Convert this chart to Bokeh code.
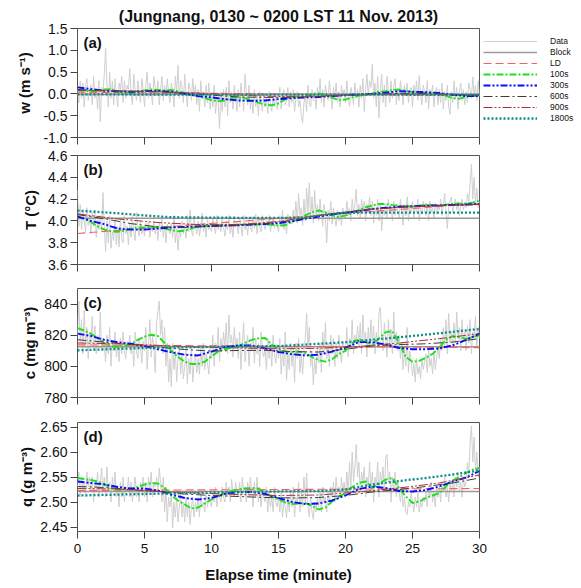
from bokeh.plotting import figure
from bokeh.layouts import column
from bokeh.models import Legend, LegendItem, FixedTicker, NumeralTickFormatter, Label, Range1d
from bokeh.embed import file_html
from bokeh.resources import INLINE

FONT = "Liberation Sans"

# ---------------- time axes (minutes) ----------------
t_data = [i / 10 for i in range(301)]
t_100s = [i / 2 for i in range(61)]
t_300s = list(range(31))
t_600s = list(range(0, 31, 2))
t_900s = list(range(0, 31, 3))
t_ends = [0, 30]
x_ticks = [0, 5, 10, 15, 20, 25, 30]

# ---------------- (a) w ----------------
w_data = [
    0.10, -0.20, 0.30, -0.10, 0.25, -0.30, 0.15, 0.35, -0.15, 0.05,
    0.20, -0.25, 0.40, -0.10, 0.10, -0.35, 0.30, -0.64, 0.15, 0.05,
    0.45, 1.05, 0.20, -0.30, 0.50, -0.10, 0.30, -0.25, 0.35, 0.00,
    -0.30, 0.25, 0.10, 0.40, -0.20, 0.30, -0.10, 0.20, 0.10, 0.58,
    0.00, -0.25, 0.45, 0.10, -0.15, 0.30, 0.05, -0.20, 0.35, 0.10,
    -0.30, 0.20, 0.50, -0.10, 0.25, 0.05, -0.25, 0.40, 0.15, -0.05,
    0.30, -0.25, 0.10, 0.40, -0.15, 0.20, -0.05, 0.35, 0.00, -0.20,
    0.25, 0.10, -0.30, 0.40, 0.05, 0.65, -0.10, 0.30, 0.15, -0.20,
    0.45, 0.00, -0.30, 0.25, 0.10, -0.15, 0.35, -0.05, 0.20, -0.25,
    0.10, -0.40, 0.30, -0.10, 0.05, -0.30, 0.20, -0.20, 0.25, -0.35,
    0.00, -0.30, 0.20, -0.45, -0.10, -0.20, -0.80, 0.05, -0.40, 0.10,
    -0.30, 0.15, -0.50, 0.30, -0.20, 0.05, -0.35, 0.20, -0.10, -0.40,
    0.10, -0.30, 0.25, -0.05, -0.40, 0.45, 0.00, -0.25, 0.20, -0.35,
    -0.10, -0.45, 0.10, -0.30, -0.05, -0.50, 0.05, -0.20, -0.40, 0.00,
    -0.30, -0.10, -0.45, 0.05, -0.25, -0.40, -0.05, -0.30, 0.00, -0.35,
    -0.15, 0.15, -0.35, -0.05, 0.10, -0.25, -0.10, 0.15, -0.30, 0.05,
    -0.20, 0.10, -0.40, -0.10, 0.05, -0.30, -0.15, -0.50, -0.67, -0.20,
    -0.05, -0.40, 0.20, -0.20, -0.30, 0.10, -0.15, 0.05, -0.35, 0.15,
    -0.10, 0.35, -0.20, 0.10, -0.30, 0.20, 0.00, -0.15, 0.30, -0.05,
    -0.35, 0.15, -0.10, 0.25, -0.20, 0.05, -0.30, 0.20, -0.05, 0.10,
    -0.20, 0.30, -0.05, -0.30, 0.15, 0.00, -0.25, 0.25, -0.10, 0.10,
    -0.30, 0.20, -0.10, 0.35, -0.40, 0.10, 0.45, -0.05, 0.30, 0.15,
    0.68, -0.10, 0.25, -0.30, 0.40, -0.55, 0.10, 0.45, -0.20, 0.20,
    -0.30, 0.40, 0.05, -0.20, 0.30, -0.10, 0.15, 0.35, -0.25, 0.10,
    -0.15, 0.30, 0.05, -0.25, 0.20, -0.05, 0.25, -0.20, 0.10, 0.15,
    -0.30, 0.20, -0.05, 0.30, -0.15, 0.42, 0.00, -0.25, 0.20, 0.05,
    -0.20, 0.30, -0.35, 0.10, -0.05, 0.20, -0.30, 0.05, 0.15, -0.25,
    0.10, -0.20, 0.25, -0.35, 0.05, -0.15, 0.20, -0.30, -0.47, 0.05,
    -0.20, 0.30, -0.10, 0.15, -0.35, 0.05, 0.25, -0.15, 0.10, -0.25,
    0.05, -0.20, 0.25, 0.10, -0.10, 0.39, -0.05, 0.20, -0.15, 0.30,
    -0.05]
w_block = [-0.01, -0.01]
w_ld = [0.04, -0.04]
w_100s = [
    0.08, 0.07, 0.06, 0.07, 0.10, 0.11, 0.06, 0.01, 0.02, 0.05,
    0.08, 0.10, 0.09, 0.08, 0.09, 0.06, 0.02, -0.02, -0.05, -0.10,
    -0.14, -0.17, -0.15, -0.09, -0.08, -0.10, -0.14, -0.20, -0.25, -0.26,
    -0.22, -0.12, -0.07, -0.06, -0.05, -0.02, 0.01, -0.02, -0.09, -0.14,
    -0.13, -0.08, -0.04, -0.02, 0.01, 0.05, 0.06, 0.09, 0.10, 0.07,
    0.04, 0.02, 0.03, 0.02, -0.01, -0.04, -0.10, -0.11, -0.07, -0.05,
    -0.05]
w_300s = [0.15, 0.11, 0.07, 0.06, 0.05, 0.06, 0.07, 0.05, 0.00, -0.05,
          -0.08, -0.12, -0.15, -0.16, -0.15, -0.12, -0.10, -0.08, -0.07, -0.05,
          -0.03, -0.01, 0.00, 0.03, 0.06, 0.05, 0.04, 0.02, -0.02, -0.05, -0.05]
w_600s = [0.10, 0.08, 0.06, 0.05, 0.02, -0.03, -0.07, -0.08, -0.08, -0.06,
          -0.04, -0.01, 0.01, 0.01, -0.01, -0.03]
w_900s = [0.08, 0.07, 0.05, 0.02, -0.03, -0.06, -0.05, -0.02, 0.00, -0.01, -0.02]
w_1800s_t = [0, 10, 20, 30]
w_1800s = [-0.012, -0.015, -0.018, -0.02]

# ---------------- (b) T ----------------
T_data = [
    4.28, 3.95, 4.15, 3.92, 4.10, 4.00, 3.90, 4.12, 3.96, 4.05,
    3.88, 4.08, 3.95, 4.10, 3.85, 4.02, 3.92, 4.05, 3.90, 4.26,
    3.95, 3.72, 4.00, 3.80, 4.05, 3.75, 3.90, 3.82, 4.02, 3.78,
    3.95, 3.76, 4.03, 3.85, 3.80, 4.05, 3.88, 3.95, 3.78, 3.98,
    3.85, 4.05, 3.90, 3.82, 4.08, 3.95, 3.86, 4.00, 3.88, 3.95,
    3.86, 3.98, 3.92, 4.00, 3.85, 3.95, 3.90, 4.00, 3.88, 3.96,
    3.82, 3.98, 3.90, 4.02, 3.85, 3.95, 3.80, 3.97, 3.92, 3.88,
    3.98, 3.85, 4.05, 3.80, 3.93, 3.73, 3.90, 3.85, 4.00, 3.88,
    3.95, 3.84, 4.05, 3.90, 4.10, 3.92, 3.86, 4.02, 3.95, 3.88,
    4.00, 3.86, 3.95, 4.07, 3.90, 3.98, 3.85, 4.03, 3.92, 3.97,
    3.90, 4.02, 3.95, 3.88, 4.05, 3.92, 3.98, 3.90, 4.03, 3.94,
    3.86, 4.00, 3.92, 4.05, 3.88, 3.96, 3.85, 4.02, 3.94, 3.99,
    3.88, 4.03, 3.95, 3.86, 4.05, 3.92, 3.98, 3.87, 4.02, 3.96,
    3.90, 4.04, 3.93, 4.06, 3.88, 4.00, 3.95, 3.90, 4.05, 3.97,
    3.92, 4.02, 3.95, 4.05, 3.90, 3.98, 4.03, 3.93, 4.00, 3.96,
    3.90, 4.05, 3.95, 4.10, 3.92, 4.02, 3.88, 4.06, 3.98, 4.03,
    3.97, 4.10, 4.00, 4.18, 3.98, 4.25, 4.05, 4.12, 3.96, 4.20,
    4.00, 4.30, 4.08, 4.35, 4.02, 4.22, 3.98, 4.28, 4.05, 4.15,
    4.00, 4.20, 4.05, 3.95, 4.15, 4.02, 3.80, 4.10, 4.00, 4.18,
    3.97, 4.12, 4.02, 3.95, 4.10, 4.00, 4.08, 3.96, 4.12, 4.05,
    4.02, 4.18, 4.05, 4.12, 4.00, 4.20, 4.08, 4.15, 4.29, 4.05,
    4.15, 4.02, 4.20, 4.08, 4.18, 4.00, 4.15, 4.10, 4.22, 4.05,
    4.18, 3.98, 4.12, 4.05, 4.20, 4.00, 4.15, 3.91, 4.10, 4.05,
    4.15, 4.02, 4.20, 4.08, 4.12, 4.00, 4.18, 4.05, 4.15, 4.10,
    4.02, 4.20, 4.08, 3.96, 4.15, 4.05, 4.22, 4.00, 4.12, 4.08,
    4.18, 4.02, 4.15, 4.08, 4.20, 4.00, 4.12, 4.06, 4.18, 4.10,
    4.05, 4.15, 4.00, 4.18, 4.08, 4.12, 4.02, 4.16, 4.06, 4.14,
    4.10, 4.20, 4.05, 4.15, 4.25, 4.08, 3.93, 4.12, 4.18, 4.22,
    4.08, 4.15, 4.20, 4.10, 4.18, 4.05, 4.14, 4.20, 4.10, 4.16,
    4.12, 4.25, 4.18, 4.35, 4.52, 4.20, 4.40, 4.15, 4.30, 4.12,
    4.18]
T_block = [4.024, 4.024]
T_ld = [3.885, 4.16]
T_100s = [
    4.04, 4.02, 3.99, 3.95, 3.92, 3.905, 3.90, 3.91, 3.93, 3.94,
    3.94, 3.945, 3.945, 3.93, 3.915, 3.905, 3.91, 3.93, 3.95, 3.955,
    3.955, 3.96, 3.96, 3.962, 3.965, 3.966, 3.966, 3.968, 3.97, 3.965,
    3.957, 3.96, 3.99, 4.02, 4.05, 4.08, 4.095, 4.08, 4.05, 4.034,
    4.05, 4.07, 4.10, 4.125, 4.14, 4.156, 4.155, 4.145, 4.14, 4.135,
    4.13, 4.14, 4.15, 4.145, 4.14, 4.148, 4.156, 4.158, 4.16, 4.17,
    4.186]
T_300s = [4.04, 4.00, 3.97, 3.93, 3.92, 3.92, 3.93, 3.94, 3.945, 3.95,
          3.952, 3.957, 3.96, 3.966, 3.972, 3.98, 3.995, 4.02, 4.04, 4.06,
          4.075, 4.09, 4.11, 4.12, 4.13, 4.135, 4.14, 4.143, 4.147, 4.15, 4.156]
T_600s = [4.058, 4.02, 3.975, 3.945, 3.94, 3.95, 3.96, 3.975, 4.003, 4.05,
          4.08, 4.11, 4.125, 4.135, 4.147, 4.15]
T_900s = [4.064, 4.018, 3.985, 3.966, 3.966, 3.995, 4.05, 4.095, 4.125, 4.14, 4.15]
T_1800s_t = [0, 3, 5, 7, 10, 14, 17, 18.5, 20, 25, 30]
T_1800s = [4.095, 4.07, 4.05, 4.034, 4.03, 4.027, 4.03, 4.058, 4.075, 4.076, 4.076]

# ---------------- (c) c ----------------
c_data = [
    820, 842, 815, 830, 808, 836, 812, 825, 805, 822,
    815, 832, 810, 826, 808, 820, 812, 835, 810, 818,
    812, 803, 820, 808, 825, 800, 815, 810, 822, 806,
    814, 803, 818, 808, 822, 810, 805, 816, 812, 820,
    808, 815, 800, 822, 810, 805, 818, 812, 802, 816,
    810, 825, 798, 815, 830, 806, 820, 812, 796, 828,
    835, 842, 820, 830, 808, 825, 800, 815, 790, 805,
    787, 815, 798, 810, 790, 805, 812, 795, 808, 792,
    800, 810, 789, 805, 795, 812, 790, 802, 808, 796,
    805, 795, 812, 800, 815, 798, 808, 802, 795, 812,
    805, 820, 800, 815, 808, 825, 803, 818, 810, 822,
    812, 828, 808, 833, 815, 820, 806, 825, 812, 818,
    805, 822, 798, 815, 828, 803, 812, 820, 800, 815,
    810, 825, 802, 818, 808, 815, 800, 822, 810, 806,
    812, 798, 818, 805, 815, 800, 820, 808, 802, 814,
    805, 818, 795, 810, 800, 822, 791, 808, 798, 815,
    800, 812, 790, 815, 805, 818, 796, 808, 795, 810,
    818, 834, 812, 825, 800, 810, 788, 805, 795, 812,
    802, 815, 796, 822, 808, 828, 805, 815, 800, 820,
    808, 818, 800, 815, 805, 820, 810, 802, 816, 812,
    810, 825, 806, 818, 812, 830, 808, 820, 815, 826,
    812, 828, 808, 833, 815, 822, 806, 825, 812, 830,
    815, 826, 808, 822, 812, 835, 838, 820, 810, 828,
    818, 806, 830, 812, 824, 808, 835, 815, 822, 810,
    820, 805, 815, 798, 812, 800, 825, 796, 810, 804,
    794, 802, 790, 805, 795, 800, 792, 805, 798, 803,
    808, 796, 812, 800, 805, 795, 810, 798, 806, 812,
    805, 818, 810, 825, 812, 830, 808, 834, 815, 822,
    812, 828, 815, 835, 818, 825, 810, 830, 816, 822,
    810, 826, 815, 830, 808, 822, 818, 832, 812, 825,
    818]
c_block = [812.6, 812.6]
c_ld = [813.8, 812.0]
c_100s = [
    824.6, 823.0, 821.0, 818.0, 815.0, 813.0, 812.4, 813.0, 814.5, 817.0,
    819.0, 820.3, 819.5, 815.0, 810.0, 806.0, 803.0, 801.5, 801.5, 803.0,
    806.5, 809.5, 811.0, 812.0, 813.0, 815.0, 817.0, 818.0, 818.2, 814.0,
    811.0, 809.5, 809.2, 809.5, 808.5, 806.0, 804.0, 803.0, 804.5, 808.0,
    810.0, 815.0, 817.5, 815.5, 814.0, 818.0, 822.0, 822.5, 815.0, 806.0,
    803.0, 803.5, 805.5, 808.0, 812.0, 817.0, 819.5, 818.5, 817.8, 818.8,
    819.9]
c_300s = [821.0, 819.5, 817.0, 815.5, 814.5, 813.0, 811.0, 809.0, 807.5, 807.0,
          809.5, 812.4, 813.5, 813.5, 811.5, 809.2, 807.8, 807.0, 807.5, 809.5,
          812.0, 815.6, 815.5, 814.0, 811.8, 811.0, 811.0, 811.5, 813.5, 817.0, 821.0]
c_600s = [817.1, 815.6, 814.0, 812.4, 810.8, 809.8, 810.2, 810.3, 809.5, 809.2,
          811.0, 813.2, 814.0, 814.5, 815.6, 817.8]
c_900s = [815.0, 814.5, 813.5, 812.4, 811.8, 811.3, 811.6, 812.8, 815.0, 817.8, 821.0]
c_1800s_t = [0, 5, 10, 15, 20, 25, 30]
c_1800s = [810.3, 811.8, 812.5, 813.0, 815.5, 819.5, 824.0]

# ---------------- (d) q ----------------
q_data = [
    2.53, 2.56, 2.51, 2.55, 2.52, 2.54, 2.51, 2.56, 2.53, 2.55,
    2.52, 2.55, 2.50, 2.54, 2.53, 2.56, 2.51, 2.54, 2.568, 2.52,
    2.55, 2.51, 2.57, 2.52, 2.54, 2.50, 2.55, 2.52, 2.56, 2.51,
    2.53, 2.49, 2.54, 2.51, 2.55, 2.50, 2.53, 2.52, 2.55, 2.51,
    2.54, 2.50, 2.53, 2.55, 2.51, 2.53, 2.50, 2.54, 2.52, 2.55,
    2.51, 2.54, 2.50, 2.55, 2.52, 2.56, 2.51, 2.54, 2.53, 2.55,
    2.52, 2.568, 2.54, 2.50, 2.55, 2.48, 2.53, 2.46, 2.51, 2.49,
    2.52, 2.448, 2.50, 2.47, 2.51, 2.46, 2.49, 2.52, 2.47, 2.50,
    2.46, 2.51, 2.47, 2.50, 2.455, 2.49, 2.51, 2.47, 2.50, 2.48,
    2.51, 2.47, 2.52, 2.49, 2.50, 2.48, 2.52, 2.49, 2.51, 2.50,
    2.49, 2.52, 2.50, 2.53, 2.49, 2.52, 2.51, 2.50, 2.53, 2.51,
    2.50, 2.54, 2.51, 2.53, 2.50, 2.545, 2.52, 2.51, 2.54, 2.52,
    2.51, 2.54, 2.50, 2.55, 2.52, 2.53, 2.50, 2.54, 2.51, 2.55,
    2.52, 2.49, 2.54, 2.51, 2.55, 2.50, 2.53, 2.49, 2.52, 2.51,
    2.50, 2.53, 2.48, 2.52, 2.49, 2.51, 2.48, 2.53, 2.50, 2.49,
    2.51, 2.48, 2.52, 2.47, 2.50, 2.49, 2.468, 2.51, 2.48, 2.52,
    2.49, 2.53, 2.47, 2.51, 2.50, 2.54, 2.48, 2.52, 2.49, 2.55,
    2.50, 2.558, 2.49, 2.47, 2.51, 2.48, 2.465, 2.50, 2.48, 2.51,
    2.49, 2.52, 2.48, 2.53, 2.50, 2.51, 2.48, 2.52, 2.50, 2.53,
    2.51, 2.54, 2.50, 2.55, 2.52, 2.53, 2.51, 2.55, 2.52, 2.54,
    2.51, 2.56, 2.52, 2.58, 2.53, 2.60, 2.54, 2.57, 2.615, 2.55,
    2.58, 2.52, 2.56, 2.54, 2.57, 2.51, 2.55, 2.53, 2.58, 2.52,
    2.56, 2.50, 2.55, 2.53, 2.58, 2.51, 2.56, 2.54, 2.57, 2.52,
    2.59, 2.595, 2.54, 2.56, 2.50, 2.55, 2.52, 2.56, 2.51, 2.54,
    2.52, 2.50, 2.53, 2.49, 2.51, 2.48, 2.475, 2.50, 2.49, 2.52,
    2.50, 2.48, 2.51, 2.49, 2.52, 2.48, 2.50, 2.49, 2.51, 2.50,
    2.52, 2.49, 2.53, 2.51, 2.54, 2.50, 2.52, 2.49, 2.53, 2.51,
    2.53, 2.50, 2.54, 2.52, 2.55, 2.51, 2.53, 2.50, 2.54, 2.52,
    2.54, 2.51, 2.55, 2.53, 2.56, 2.52, 2.54, 2.51, 2.55, 2.53,
    2.54, 2.58, 2.55, 2.62, 2.652, 2.58, 2.63, 2.56, 2.60, 2.55,
    2.57]
q_block = [2.521, 2.521]
q_ld = [2.523, 2.527]
q_100s = [
    2.548, 2.546, 2.544, 2.541, 2.536, 2.528, 2.525, 2.525, 2.526, 2.530,
    2.535, 2.538, 2.537, 2.528, 2.513, 2.503, 2.495, 2.487, 2.489, 2.497,
    2.505, 2.512, 2.518, 2.522, 2.525, 2.527, 2.528, 2.527, 2.518, 2.511,
    2.505, 2.499, 2.496, 2.497, 2.498, 2.492, 2.485, 2.489, 2.501, 2.510,
    2.518, 2.530, 2.538, 2.541, 2.528, 2.536, 2.545, 2.548, 2.528, 2.511,
    2.498, 2.501, 2.508, 2.513, 2.518, 2.531, 2.543, 2.550, 2.558, 2.565,
    2.568]
q_300s = [2.541, 2.538, 2.535, 2.530, 2.527, 2.527, 2.523, 2.515, 2.508, 2.505,
          2.508, 2.516, 2.520, 2.520, 2.516, 2.508, 2.500, 2.496, 2.497, 2.503,
          2.513, 2.526, 2.531, 2.528, 2.522, 2.521, 2.524, 2.531, 2.541, 2.549, 2.562]
q_600s = [2.531, 2.529, 2.525, 2.521, 2.516, 2.513, 2.511, 2.509, 2.508, 2.509,
          2.513, 2.520, 2.525, 2.531, 2.538, 2.548]
q_900s = [2.527, 2.526, 2.521, 2.518, 2.515, 2.513, 2.514, 2.520, 2.528, 2.538, 2.554]
q_1800s_t = [0, 5, 10, 15, 18, 20, 22, 24, 26, 28, 30]
q_1800s = [2.513, 2.516, 2.519, 2.521, 2.522, 2.525, 2.535, 2.542, 2.548, 2.555, 2.563]

legend_names = ["Data", "Block", "LD", "100s", "300s", "600s", "900s", "1800s"]

# ---------------- styles ----------------
STY = {
    "Data":  dict(line_color="#cfcfcf", line_width=1),
    "Block": dict(line_color="#9a9a9a", line_width=1.6),
    "LD":    dict(line_color="#ff5c5c", line_width=1.1, line_dash="8 4"),
    "100s":  dict(line_color="#1ee01e", line_width=1.9, line_dash="7 2 2 2"),
    "300s":  dict(line_color="#0a0aff", line_width=1.9, line_dash="7 2 2 2 2 2"),
    "600s":  dict(line_color="#3c3c3c", line_width=1.0, line_dash="9 3 2 3"),
    "900s":  dict(line_color="#a83232", line_width=1.0, line_dash="9 2 2 2 2 2"),
    "1800s": dict(line_color="#0a8c8c", line_width=2.3, line_dash="2 2"),
}

panels = [
    dict(tag="(a)", ylabel="w (m s\u207b\u00b9)", yr=(-1.0, 1.5), ticks=[-1.0, -0.5, 0.0, 0.5, 1.0, 1.5],
         fmt="0.0", data=w_data, block=w_block, ld=w_ld, s100=w_100s, s300=w_300s,
         s600=w_600s, s900=w_900s, t1800=w_1800s_t, s1800=w_1800s,
         top=28, bottom=9, lab_off=7),
    dict(tag="(b)", ylabel="T (\u00b0C)", yr=(3.6, 4.6), ticks=[3.6, 3.8, 4.0, 4.2, 4.4, 4.6],
         fmt="0.0", data=T_data, block=T_block, ld=T_ld, s100=T_100s, s300=T_300s,
         s600=T_600s, s900=T_900s, t1800=T_1800s_t, s1800=T_1800s,
         top=9, bottom=12, lab_off=6),
    dict(tag="(c)", ylabel="c (mg m\u207b\u00b3)", yr=(780, 850), ticks=[780, 800, 820, 840],
         fmt="0", data=c_data, block=c_block, ld=c_ld, s100=c_100s, s300=c_300s,
         s600=c_600s, s900=c_900s, t1800=c_1800s_t, s1800=c_1800s,
         top=12, bottom=13, lab_off=3),
    dict(tag="(d)", ylabel="q (g m\u207b\u00b3)", yr=(2.441, 2.659), ticks=[2.45, 2.50, 2.55, 2.60, 2.65],
         fmt="0.00", data=q_data, block=q_block, ld=q_ld, s100=q_100s, s300=q_300s,
         s600=q_600s, s900=q_900s, t1800=q_1800s_t, s1800=q_1800s,
         top=12, bottom=56, lab_off=2),
]

figs = []
for i, pn in enumerate(panels):
    last = (i == len(panels) - 1)
    p = figure(frame_width=402, frame_height=109,
               x_range=Range1d(0, 30), y_range=Range1d(*pn["yr"]),
               output_backend="svg", toolbar_location=None,
               min_border_left=77, min_border_right=102,
               min_border_top=pn["top"], min_border_bottom=pn["bottom"])
    p.background_fill_color = "white"
    p.border_fill_color = "white"
    p.outline_line_color = "#555555"
    p.outline_line_width = 1
    p.xgrid.visible = False
    p.ygrid.visible = False

    rs = {}
    rs["Data"] = p.line(t_data, pn["data"], **STY["Data"])
    rs["Block"] = p.line(t_ends, pn["block"], **STY["Block"])
    rs["LD"] = p.line(t_ends, pn["ld"], **STY["LD"])
    rs["100s"] = p.line(t_100s, pn["s100"], **STY["100s"])
    rs["300s"] = p.line(t_300s, pn["s300"], **STY["300s"])
    rs["600s"] = p.line(t_600s, pn["s600"], **STY["600s"])
    rs["900s"] = p.line(t_900s, pn["s900"], **STY["900s"])
    rs["1800s"] = p.line(pn["t1800"], pn["s1800"], **STY["1800s"])

    for ax in (p.xaxis[0], p.yaxis[0]):
        ax.axis_line_color = None
        ax.major_tick_out = 7
        ax.major_tick_in = 0
        ax.minor_tick_line_color = None
        ax.major_tick_line_color = "#444444"
        ax.major_label_text_font = FONT
        ax.major_label_text_color = "#111111"
        ax.axis_label_text_font = FONT
        ax.axis_label_text_font_style = "bold"
        ax.axis_label_text_color = "#111111"
        ax.axis_label_text_font_size = "15px"

    p.xaxis.ticker = FixedTicker(ticks=x_ticks)
    if last:
        p.xaxis.major_label_text_font_size = "13.5px"
        p.xaxis.major_label_standoff = 5
        p.xaxis.axis_label = "Elapse time (minute)"
        p.xaxis.axis_label_standoff = 10
    else:
        p.xaxis.major_label_overrides = {t: "" for t in x_ticks}
        p.xaxis.major_label_text_font_size = "0px"
        p.xaxis.major_label_standoff = 0

    p.yaxis.ticker = FixedTicker(ticks=pn["ticks"])
    p.yaxis.formatter = NumeralTickFormatter(format=pn["fmt"])
    p.yaxis.major_label_text_font_size = "14px"
    p.yaxis.major_label_standoff = 3
    p.yaxis.axis_label = pn["ylabel"]
    p.yaxis.axis_label_standoff = pn["lab_off"]

    p.add_layout(Label(x=0.45, y=pn["yr"][1], text=pn["tag"], text_font=FONT,
                       text_font_style="bold", text_font_size="15px",
                       text_baseline="top", y_offset=-5, text_color="#111111"))

    if i == 0:
        p.title.text = "(Jungnang, 0130 ~ 0200 LST 11 Nov. 2013)"
        p.title.align = "center"
        p.title.text_font = FONT
        p.title.text_font_size = "16px"
        p.title.text_font_style = "bold"
        p.title.text_color = "#111111"
        p.title.standoff = 8
        items = [LegendItem(label=n, renderers=[rs[n]]) for n in legend_names]
        leg = Legend(items=items, location=(4, 14), orientation="vertical",
                     glyph_width=54, glyph_height=10, label_height=10, spacing=1,
                     label_standoff=13, padding=0, margin=0,
                     label_text_font=FONT, label_text_font_size="8.5px",
                     label_text_color="#111111", label_text_align="left",
                     background_fill_alpha=0, border_line_alpha=0)
        p.add_layout(leg, "right")
    figs.append(p)

layout = column(*figs)
open("out.html", "w").write(file_html(layout, INLINE))
